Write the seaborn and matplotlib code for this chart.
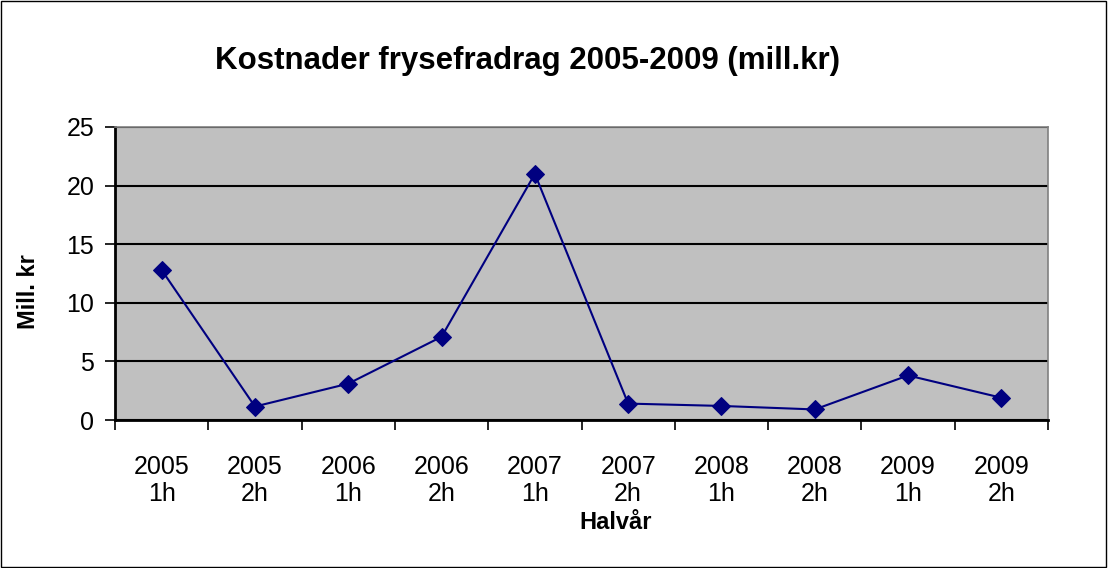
import numpy as np
import pandas as pd
import matplotlib
matplotlib.use("Agg")
import matplotlib.pyplot as plt
import seaborn as sns
from matplotlib.ticker import FixedLocator
from matplotlib.patches import Rectangle

# data
aar = ["2005", "2005", "2006", "2006", "2007", "2007", "2008", "2008", "2009", "2009"]
halvdel = ["1h", "2h", "1h", "2h", "1h", "2h", "1h", "2h", "1h", "2h"]
mill_kr = [12.8, 1.15, 3.1, 7.1, 21.0, 1.4, 1.2, 0.9, 3.8, 1.9]
y_ticks = [0, 5, 10, 15, 20, 25]

df = pd.DataFrame({
    "halvaar": [a + "\n" + h for a, h in zip(aar, halvdel)],
    "mill_kr": mill_kr,
})

sns.set_style("white")
plt.rcParams["font.family"] = ["Liberation Sans", "DejaVu Sans"]
plt.rcParams["text.color"] = "black"
plt.rcParams["axes.labelcolor"] = "black"
plt.rcParams["xtick.color"] = "black"
plt.rcParams["ytick.color"] = "black"

fig = plt.figure(figsize=(11.08, 5.68), dpi=100)
ax = fig.add_axes([115 / 1108, 1 - 420 / 568, 933 / 1108, 293 / 568])
ax.set_facecolor("#C0C0C0")

sns.lineplot(data=df, x="halvaar", y="mill_kr", sort=False, ax=ax,
             color="#000080", linewidth=1.5, marker="D", markersize=9,
             markeredgecolor="#000080", markerfacecolor="#000080")

ax.set_xlim(-0.5, len(df) - 0.5)
ax.set_ylim(0, 25)
ax.set_yticks(y_ticks)
ax.yaxis.grid(True, color="black", linewidth=1.5)
ax.set_axisbelow(True)

# tick marks between categories
ax.xaxis.set_minor_locator(FixedLocator(np.arange(-0.5, len(df), 1.0)))
ax.tick_params(axis="x", which="major", length=0, pad=25, labelsize=18)
ax.tick_params(axis="x", which="minor", length=7, width=1.2, color="black", direction="out", bottom=True)
ax.tick_params(axis="y", which="major", length=7, width=1.2, color="black", direction="out", left=True,
               labelsize=18, pad=8)
for lab in ax.get_xticklabels():
    lab.set_linespacing(1.15)

for side in ["top", "right"]:
    ax.spines[side].set_color("#808080")
    ax.spines[side].set_linewidth(1.2)
for side in ["left", "bottom"]:
    ax.spines[side].set_color("black")
    ax.spines[side].set_linewidth(2)

ax.set_xlabel("Halvår", fontsize=17, fontweight="bold")
ax.xaxis.set_label_coords(0.537, -0.31)
ax.set_ylabel("Mill. kr", fontsize=17, fontweight="bold")
ax.yaxis.set_label_coords(-0.08, 0.44)

fig.text(0.476, 1 - 61 / 568, "Kostnader frysefradrag 2005-2009 (mill.kr)",
         ha="center", va="center", fontsize=22.5, fontweight="bold")

fig.patches.append(Rectangle((0.001, 0.002), 0.997, 0.996, transform=fig.transFigure,
                             fill=False, edgecolor="black", linewidth=1))

fig.savefig("out.png", dpi=100)
